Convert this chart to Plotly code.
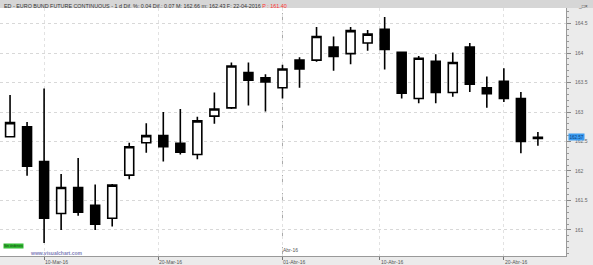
import plotly.graph_objects as go

# ---- data ----
dates = ["2016-03-08", "2016-03-09", "2016-03-10", "2016-03-11", "2016-03-14", "2016-03-15",
         "2016-03-16", "2016-03-17", "2016-03-18", "2016-03-21", "2016-03-22", "2016-03-23",
         "2016-03-24", "2016-03-29", "2016-03-30", "2016-03-31", "2016-04-01", "2016-04-04",
         "2016-04-05", "2016-04-06", "2016-04-07", "2016-04-08", "2016-04-11", "2016-04-12",
         "2016-04-13", "2016-04-14", "2016-04-15", "2016-04-18", "2016-04-19", "2016-04-20",
         "2016-04-21", "2016-04-22"]
opens = [162.58, 162.75, 162.16, 161.28, 161.72, 161.42, 161.20, 161.93, 162.48, 162.60,
         162.47, 162.28, 162.93, 163.07, 163.67, 163.58, 163.41, 163.88, 163.88, 164.10,
         163.99, 164.17, 164.40, 164.01, 163.23, 163.86, 163.33, 164.10, 163.41, 163.52,
         163.23, 162.55]
highs = [163.29, 162.83, 163.40, 161.95, 162.22, 161.77, 161.78, 162.48, 162.81, 163.00,
         163.05, 162.92, 163.33, 163.84, 163.84, 163.64, 163.80, 163.93, 164.44, 164.28,
         164.44, 164.39, 164.61, 164.02, 163.95, 163.98, 164.01, 164.17, 163.60, 163.74,
         163.34, 162.66]
lows = [162.57, 161.92, 160.78, 161.00, 161.24, 161.00, 161.06, 161.86, 162.31, 162.16,
        162.28, 162.20, 162.80, 163.05, 163.11, 163.01, 163.23, 163.41, 163.85, 163.70,
        163.81, 164.04, 163.72, 163.23, 163.15, 163.15, 163.26, 163.34, 163.07, 163.17,
        162.30, 162.43]
closes = [162.82, 162.08, 161.20, 161.72, 161.30, 161.10, 161.76, 162.41, 162.60, 162.41,
          162.32, 162.85, 163.05, 163.78, 163.54, 163.51, 163.73, 163.73, 164.28, 163.94,
          164.38, 164.32, 164.06, 163.32, 163.91, 163.33, 163.84, 163.47, 163.31, 163.23,
          162.50, 162.57]
tick_dates = ["2016-03-10", "2016-03-20", "2016-04-01", "2016-04-10", "2016-04-20"]
tick_labels = ["10-Mar-16", "20-Mar-16", "01-Abr-16", "10-Abr-16", "20-Abr-16"]
month_marks = ["2016-04-01"]
month_labels = ["Abr-16"]
header = ("ED - EURO BUND FUTURE CONTINUOUS - 1 d Dif. %: 0.04 Dif.: 0.07 M: 162.66 "
          "m: 162.43 F: 22-04-2016 ")
header_red = "P : 161.40"

# ---- positions (trading-day index) ----
idx = list(range(len(dates)))


def pos_of(d):
    if d in dates:
        return float(dates.index(d))
    for i, td in enumerate(dates):
        if td > d:
            return i - 0.3
    return float(len(dates))


tick_pos = [pos_of(d) for d in tick_dates]
month_pos = [pos_of(d) for d in month_marks]

W, H = 593, 265
ML, MR, MT, MB = 0, 27, 8, 9
PW = W - ML - MR
PH = H - MT - MB

FONT = "Liberation Sans"

fig = go.Figure()
fig.add_trace(go.Candlestick(
    x=idx, open=opens, high=highs, low=lows, close=closes,
    increasing=dict(fillcolor="white", line=dict(color="black", width=1.6)),
    decreasing=dict(fillcolor="black", line=dict(color="black", width=1.6)),
    whiskerwidth=0, showlegend=False, hoverinfo="skip",
))

shapes = []
shapes.append(dict(type="rect", xref="paper", yref="paper", x0=0, x1=W / PW,
                   y0=1, y1=1 + MT / PH, fillcolor="#d6d6d6", line=dict(width=0), layer="below"))
for mp in month_pos:
    shapes.append(dict(type="line", xref="x", yref="paper", x0=mp, x1=mp, y0=0, y1=1,
                       line=dict(color="#aaaaaa", width=1, dash="dash"), layer="below"))

annotations = []
annotations.append(dict(xref="paper", yref="paper", x=2 / PW, y=1 + (MT - 1) / PH,
                        xanchor="left", yanchor="top", showarrow=False,
                        text=header + "<span style='color:#ff3030'>" + header_red + "</span>",
                        font=dict(family=FONT, size=5.4, color="#333333")))
annotations.append(dict(xref="paper", yref="paper", x=(W - 3) / PW, y=1 + (MT - 1) / PH,
                        xanchor="right", yanchor="top", showarrow=False, text="_□×",
                        font=dict(family=FONT, size=5, color="#444444")))
for tp, tl in zip(tick_pos, tick_labels):
    annotations.append(dict(xref="x", yref="paper", x=tp, y=-1 / PH, xanchor="left",
                            yanchor="top", showarrow=False, text=tl, xshift=-1,
                            font=dict(family=FONT, size=5, color="#555555")))
for mp, ml in zip(month_pos, month_labels):
    annotations.append(dict(xref="x", yref="paper", x=mp, y=1 / PH, xanchor="left",
                            yanchor="bottom", showarrow=False, text=ml, xshift=-1,
                            font=dict(family=FONT, size=5, color="#555555")))
annotations.append(dict(xref="paper", yref="paper", x=3 / PW, y=(256 - 243) / PH,
                        xanchor="left", yanchor="top", showarrow=False, text="Sin órdenes",
                        bgcolor="#33bb33", borderpad=0,
                        font=dict(family=FONT, size=3.5, color="#114411")))
annotations.append(dict(xref="paper", yref="paper", x=28 / PW, y=(256 - 248) / PH,
                        xanchor="left", yanchor="top", showarrow=False,
                        text="<b>www.visualchart.com</b>",
                        font=dict(family=FONT, size=5, color="#8080b8")))
annotations.append(dict(xref="paper", yref="y", x=1 + 2 / PW, y=closes[-1],
                        xanchor="left", yanchor="middle", showarrow=False,
                        text="%.2f" % closes[-1], bgcolor="#3d9cf0", borderpad=0.5,
                        font=dict(family=FONT, size=4.5, color="#0a3f80")))

fig.update_layout(
    width=W, height=H,
    margin=dict(l=ML, r=MR, t=MT, b=MB, pad=0),
    paper_bgcolor="#ebebeb", plot_bgcolor="white",
    boxgap=0.25,
    shapes=shapes, annotations=annotations,
    xaxis=dict(range=[-0.59, 32.65], rangeslider=dict(visible=False),
               tickvals=tick_pos, ticktext=[""] * len(tick_pos),
               showgrid=True, gridcolor="#e2e2e2", griddash="dot", gridwidth=1,
               ticks="outside", ticklen=3, tickcolor="#777777",
               showline=True, linecolor="#999999", linewidth=1, zeroline=False,
               fixedrange=True),
    yaxis=dict(side="right", range=[160.559, 164.763], dtick=0.5, tick0=161,
               showgrid=True, gridcolor="#d8d8d8", griddash="dot", gridwidth=1,
               ticks="outside", ticklen=4, tickcolor="#888888",
               minor=dict(dtick=0.1, ticks="outside", ticklen=2, tickcolor="#999999",
                          showgrid=False),
               showline=True, linecolor="#999999", linewidth=1, zeroline=False,
               tickfont=dict(family=FONT, size=5, color="#666666"),
               ticklabelstandoff=3, fixedrange=True),
)

fig.write_html("out.html")
